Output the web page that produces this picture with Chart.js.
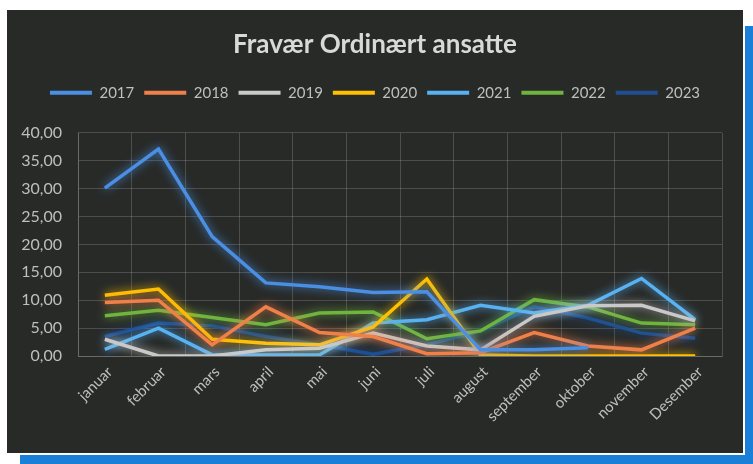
<!DOCTYPE html>
<html><head><meta charset="utf-8">
<script src="https://cdn.jsdelivr.net/npm/chart.js@4"></script>
<style>
html,body{margin:0;padding:0;background:#fff;width:753px;height:464px;overflow:hidden;}
#shadowR{position:absolute;left:745px;top:26px;width:8px;height:438px;background:#1a7fd6;}
#shadowB{position:absolute;left:20px;top:455px;width:733px;height:9px;background:#1a7fd6;}
#box{position:absolute;left:7px;top:10px;width:736px;height:443px;background:#282a28;}
canvas{display:block}
</style></head>
<body>
<div id="shadowR"></div><div id="shadowB"></div>
<div id="box"><canvas id="c" width="736" height="443"></canvas></div>
<script>
const months = ['januar','februar','mars','april','mai','juni','juli','august','september','oktober','november','Desember'];
const years = ['2017','2018','2019','2020','2021','2022','2023'];
const v2017 = [30.1, 37.1, 21.4, 13.1, 12.4, 11.4, 11.5, 1.1, 1.1, 1.5, null, null];
const v2018 = [9.6, 10.0, 2.0, 8.8, 4.2, 3.5, 0.4, 0.6, 4.2, 1.8, 1.1, 5.0];
const v2019 = [3.0, 0.0, 0.0, 1.1, 1.4, 4.1, 1.8, 1.1, 7.1, 9.0, 9.1, 6.3];
const v2020 = [10.9, 12.0, 3.0, 2.3, 2.0, 5.2, 13.8, 0.2, 0.0, 0.0, 0.0, 0.0];
const v2021 = [1.2, 5.0, 0.2, 0.2, 0.2, 5.9, 6.5, 9.1, 7.7, 9.1, 13.9, 6.5];
const v2022 = [7.2, 8.2, 6.9, 5.6, 7.7, 7.9, 3.1, 4.5, 10.1, 8.8, 5.9, 5.6];
const v2023 = [3.5, 5.9, 5.4, 3.5, 2.0, 0.3, 2.0, 4.5, 8.8, 6.8, 4.1, 3.2];
const yTicks = [0, 5, 10, 15, 20, 25, 30, 35, 40];

const seriesValues = [v2017, v2018, v2019, v2020, v2021, v2022, v2023];
const colors = ['#4a8fe3', '#f0804a', '#c9c9c9', '#ffc000', '#58b2f2', '#6fb43f', '#1f4f93'];

const glow = {
  id: 'glow',
  beforeDatasetDraw(chart, args) {
    const ctx = chart.ctx;
    ctx.save();
    ctx.shadowColor = args.meta.dataset.options.borderColor;
    ctx.shadowBlur = 10;
  },
  afterDatasetDraw(chart) { chart.ctx.restore(); }
};

const fmt = v => v.toFixed(2).replace('.', ',');
const gridCol = 'rgba(255,255,255,0.17)';

new Chart(document.getElementById('c'), {
  type: 'line',
  data: {
    labels: months,
    datasets: years.map((y, i) => ({
      label: y,
      data: seriesValues[i],
      borderColor: colors[i],
      backgroundColor: colors[i],
      borderWidth: 3.5,
      pointRadius: 0,
      tension: 0,
      spanGaps: false
    }))
  },
  options: {
    responsive: false,
    animation: false,
    layout: { padding: { left: 0, right: 0, top: 0, bottom: 0 } },
    plugins: {
      title: {
        display: true,
        text: 'Fravær Ordinært ansatte',
        color: '#d9d9d9',
        font: { family: 'Lato', size: 26, weight: 'bold' },
        padding: { top: 19, bottom: 15 }
      },
      legend: {
        display: true,
        position: 'top',
        labels: {
          color: '#bfbfbf',
          font: { family: 'Lato', size: 15 },
          boxWidth: 42,
          boxHeight: 4,
          padding: 10,
          generateLabels: chart => Chart.defaults.plugins.legend.labels.generateLabels(chart).map(l => ({ ...l, lineWidth: 0 }))
        }
      },
      subtitle: {
        display: true,
        text: ' ',
        position: 'top',
        weight: 500,
        font: { size: 10 },
        padding: { top: 0, bottom: 10.6 }
      },
      tooltip: { enabled: false }
    },
    scales: {
      x: {
        offset: true,
        grid: { offset: true, color: gridCol, drawTicks: false },
        border: { color: gridCol },
        ticks: {
          color: '#bfbfbf',
          font: { family: 'Lato', size: 15 },
          minRotation: 45, maxRotation: 45,
          padding: 7,
          labelOffset: 5,
          autoSkip: false
        },
        afterFit: s => { s.height = 97; }
      },
      y: {
        min: 0, max: 40,
        afterBuildTicks: s => { s.ticks = yTicks.map(v => ({ value: v })); },
        grid: { color: gridCol, drawTicks: false },
        border: { color: gridCol },
        ticks: {
          color: '#bfbfbf',
          font: { family: 'Lato', size: 16 },
          padding: 16,
          callback: v => fmt(v)
        },
        afterFit: s => { s.width = 71; }
      },
      yRight: {
        position: 'right',
        display: true,
        min: 0, max: 40,
        grid: { drawOnChartArea: false, drawTicks: false },
        border: { display: false },
        ticks: { display: false },
        afterFit: s => { s.width = 21; }
      }
    }
  },
  plugins: [glow]
});
</script>
</body></html>
